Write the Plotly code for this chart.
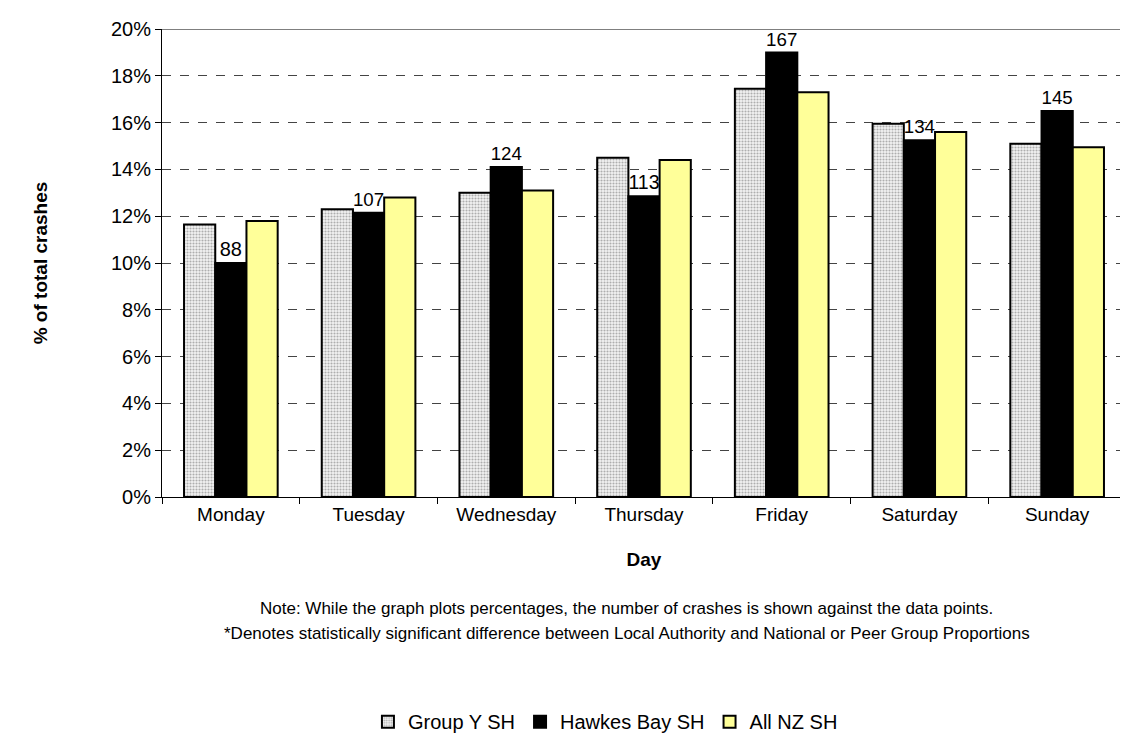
import plotly.graph_objects as go

days = ["Monday", "Tuesday", "Wednesday", "Thursday", "Friday", "Saturday", "Sunday"]
group_y = [11.65, 12.3, 13.0, 14.5, 17.45, 15.95, 15.1]
hawkes = [10.0, 12.15, 14.1, 12.85, 19.0, 15.25, 16.5]
all_nz = [11.8, 12.8, 13.1, 14.4, 17.3, 15.6, 14.95]
hawkes_counts = ["88", "107", "124", "113", "167", "134", "145"]
y_ticks = [0, 2, 4, 6, 8, 10, 12, 14, 16, 18, 20]
y_tick_labels = [f"{v}%" for v in y_ticks]

FONT = "Liberation Sans, Arial, sans-serif"

fig = go.Figure()
fig.add_trace(go.Bar(
    name="Group Y SH", x=days, y=group_y,
    marker=dict(color="white", line=dict(color="black", width=2),
                pattern=dict(shape=".", fgcolor="#6a6a6a", bgcolor="#f2f2f2",
                             size=3, solidity=0.4)),
))
fig.add_trace(go.Bar(
    name="Hawkes Bay SH", x=days, y=hawkes,
    marker=dict(color="black", line=dict(color="black", width=2)),
    text=hawkes_counts, textposition="outside", cliponaxis=False,
    outsidetextfont=dict(family=FONT, size=20, color="black"),
))
fig.add_trace(go.Bar(
    name="All NZ SH", x=days, y=all_nz,
    marker=dict(color="#ffff99", line=dict(color="black", width=2)),
))

fig.add_shape(type="line", xref="paper", yref="y", x0=0, x1=1, y0=20, y1=20,
              line=dict(color="black", width=1))

fig.update_layout(
    width=1128, height=743,
    margin=dict(l=154, r=10, t=21, b=248),
    paper_bgcolor="white", plot_bgcolor="white",
    barmode="group", bargap=0.32, bargroupgap=0,
    font=dict(family=FONT, size=18, color="black"),
    showlegend=True,
    legend=dict(orientation="h", x=0.46, xanchor="center", y=-0.48, yanchor="middle",
                font=dict(family=FONT, size=20), itemwidth=30, traceorder="normal"),
    xaxis=dict(showline=True, linecolor="black", linewidth=1, ticks="outside",
               tickson="boundaries", ticklen=6, tickcolor="black",
               tickfont=dict(size=19), showgrid=False,
               title=dict(text="<b>Day</b>", font=dict(size=19), standoff=28)),
    yaxis=dict(range=[0, 20], tickvals=y_ticks, ticktext=y_tick_labels,
               showline=True, linecolor="black", linewidth=1, ticks="outside",
               ticklen=6, tickcolor="black", tickfont=dict(size=20),
               showgrid=True, gridcolor="#444444", griddash="dash", gridwidth=1,
               zeroline=False,
               title=dict(text="<b>% of total crashes</b>", font=dict(size=19), standoff=58)),
)

NOTE_FONT = dict(family=FONT, size=17)
fig.add_annotation(xref="paper", yref="paper", x=0.482, y=-0.238, xanchor="center",
                   yanchor="middle", showarrow=False,
                   text="Note: While the graph plots percentages, the number of crashes is shown against the data points.",
                   font=NOTE_FONT)
fig.add_annotation(xref="paper", yref="paper", x=0.482, y=-0.292, xanchor="center",
                   yanchor="middle", showarrow=False,
                   text="*Denotes statistically significant difference between Local Authority and National or Peer Group Proportions",
                   font=NOTE_FONT)

fig.write_html("out.html")
